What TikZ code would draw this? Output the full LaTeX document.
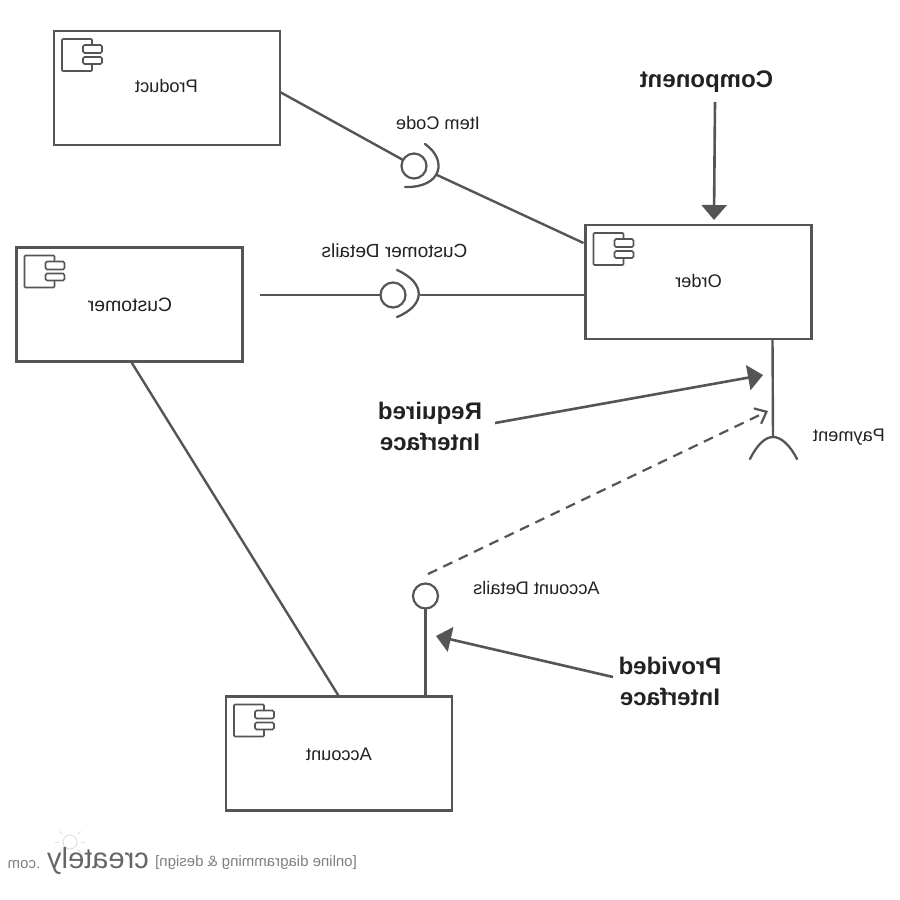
\documentclass[tikz,border=0pt]{standalone}
\usepackage{fontspec}
\usepackage{graphicx}
\setmainfont{Liberation Sans}
\usetikzlibrary{arrows.meta}
\definecolor{ln}{HTML}{555555}
\definecolor{txt}{HTML}{222222}
\newcommand{\mir}[1]{\reflectbox{#1}}
\tikzset{
  compbox/.style={draw=ln,line width=2.4pt,fill=white,rectangle,minimum width=226pt,minimum height=114pt,inner sep=0pt,outer sep=0pt},
  lab/.style={text=txt,font=\fontsize{18.2}{20}\selectfont,inner sep=0pt},
  widelab/.style={text=txt,font=\fontsize{19.4}{21}\selectfont,inner sep=0pt},
  biglab/.style={text=txt,font=\fontsize{24}{31}\selectfont\bfseries,inner sep=0pt,align=center},
  conn/.style={draw=ln,line width=2.4pt},
  thinconn/.style={draw=ln,line width=2.4pt},
  lolly/.style={circle,draw=ln,line width=2.2pt,fill=white,minimum size=25pt,inner sep=0pt,outer sep=0pt},
  socket/.style={draw=ln,line width=2.3pt,line cap=round},
  callout/.style={draw=ln,line width=2.6pt,-{Triangle[length=15pt,width=25pt]}},
  dep/.style={draw=ln,line width=2.2pt,dash pattern=on 10pt off 7pt,-{Straight Barb[length=10pt,width=17pt]}},
  compicon/.pic={
    \draw[draw=ln,line width=1.6pt,rounded corners=1pt] (38,14) -- (38,8) -- (8,8) -- (8,40) -- (38,40) -- (38,33);
    \draw[draw=ln,line width=1.6pt,fill=white,rounded corners=1.5pt] (29,14) rectangle (48,22);
    \draw[draw=ln,line width=1.6pt,fill=white,rounded corners=1.5pt] (29,26) rectangle (48,33);
  }
}
\begin{document}
\begin{tikzpicture}[x=1pt,y=-1pt]
\useasboundingbox[fill=white] (0,0) rectangle (900,900);

% components
\node[compbox] (prod) at (167,88) {};
\node[compbox] (cust) at (129.5,304.5) {};
\node[compbox] (order) at (698.5,282) {};
\node[compbox] (acct) at (339,753.5) {};
\pic at (prod.north west) {compicon};
\pic at (cust.north west) {compicon};
\pic at (order.north west) {compicon};
\pic at (acct.north west) {compicon};
\node[lab] (tprod) at (166.5,86) {\mir{Product}};
\node[widelab] (tcust) at (130,305) {\mir{Customer}};
\node[lab] (torder) at (698.5,281) {\mir{Order}};
\node[lab] (tacct) at (339,754) {\mir{Account}};

% item code interface
\node[lolly] (itemc) at (414,166) {};
\coordinate (itema) at (425,144);
\coordinate (itemb) at (405,187);
\coordinate (itemj) at (437,175);
\draw[socket] (itema) .. controls (448,160) and (442,188) .. (itemb);
\draw[conn] ([yshift=-4pt]prod.east) -- (itemc);
\draw[conn] (itemj) -- ([yshift=39pt,xshift=-2pt]order.west);
\node[lab] (titem) at (438,123) {\mir{Item Code}};

% customer details interface
\node[lolly] (custc) at (393,295) {};
\coordinate (custs) at (260,295);
\coordinate (custa) at (397,270);
\coordinate (custb) at (397,317);
\coordinate (custj) at (420,295);
\draw[socket] (custa) .. controls (426,283) and (426,305) .. (custb);
\draw[conn] (custs) -- (custc);
\draw[conn] (custj) -- (custj -| order.west);
\node[font=\fontsize{19}{21}\selectfont,text=txt,inner sep=0pt] (tcd) at (394.5,251) {\mir{Customer Details}};

% customer - account
\draw[thinconn] ([xshift=1.5pt]cust.south) -- (acct.north);

% payment socket
\coordinate (paya) at (750,459);
\coordinate (payb) at (797,459);
\coordinate (payt) at (773,437);
\draw[socket] (paya) .. controls (757,445) and (765,437) .. (payt) .. controls (781,437) and (790,445) .. (payb);
\draw[thinconn] ([xshift=74pt]order.south) -- (payt);
\node[lab] (tpay) at (849,437) {\mir{Payment}};

% account details
\node[lolly] (accc) at (425.5,596) {};
\draw[conn] ([xshift=86.5pt]acct.north) -- (accc);
\node[lab] (tad) at (536.5,588) {\mir{Account Details}};

% dashed dependency
\coordinate (depa) at (428,574);
\coordinate (depb) at (768,411);
\draw[dep] (depa) -- (depb);

% callouts
\node[biglab] (lcomp) at (706.5,82) {\mir{Component}};
\coordinate (lcompa) at (715,102);
\coordinate (lcompb) at (714,220);
\draw[callout] (lcompa) -- (lcompb);

\node[biglab] (lreq) at (430,426) {\mir{Required}\\\mir{Interface}};
\coordinate (lreqa) at (495,423);
\coordinate (lreqb) at (763,375);
\draw[callout] (lreqa) -- (lreqb);

\node[biglab] (lprov) at (670,681) {\mir{Provided}\\\mir{Interface}};
\coordinate (lprova) at (613,677);
\coordinate (lprovb) at (436,636);
\draw[callout] (lprova) -- (lprovb);

% logo
\begin{scope}[draw=black!12,line width=1pt]
\draw (70,842) circle (7pt);
\foreach \a in {0,45,...,180,225,315}{\draw (70,842) ++(\a:11) -- ++(\a:4);}
\end{scope}
\node[text=black!50,font=\fontsize{15}{17}\selectfont,inner sep=0pt] (lgtag) at (256,863) {\mir{[online diagramming \& design]}};
\node[text=black!60,font=\fontsize{29}{31}\selectfont,inner sep=0pt] (lgname) at (98,861) {\mir{creately}};
\node[text=black!50,font=\fontsize{15}{17}\selectfont,inner sep=0pt] (lgcom) at (24,865) {\mir{.com}};
\end{tikzpicture}
\end{document}
